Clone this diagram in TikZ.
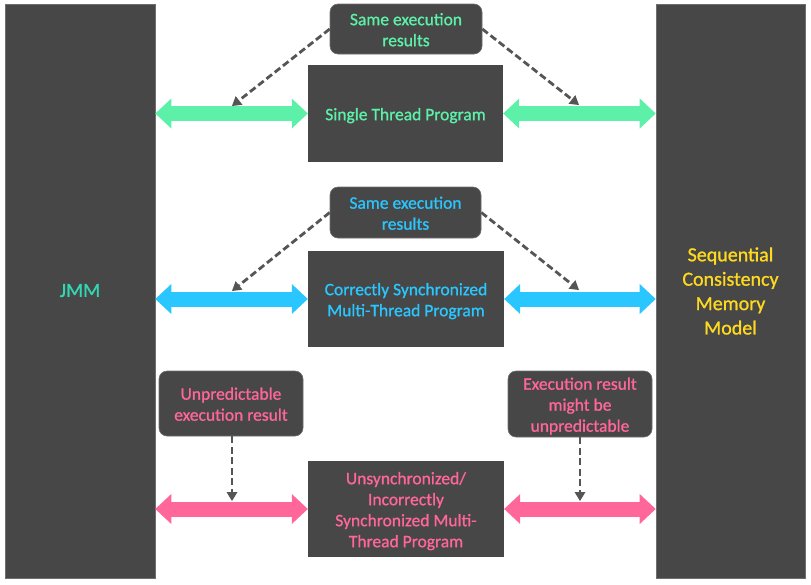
\documentclass[tikz,border=0pt]{standalone}
\usepackage{fontspec}
\setmainfont{Carlito}[FakeBold=1.0]
\usetikzlibrary{arrows.meta}
\definecolor{boxgray}{HTML}{474747}
\definecolor{edgegray}{HTML}{6E6E6E}
\definecolor{dashgray}{HTML}{555555}
\definecolor{mgreen}{HTML}{5CF0A9}
\definecolor{mblue}{HTML}{29C6FF}
\definecolor{mpink}{HTML}{FF6699}
\definecolor{myellow}{HTML}{FFD91F}
\definecolor{mteal}{HTML}{33D6B3}
\newcommand{\dntext}[2][2.5pt]{\raisebox{-#1}[\height][\depth]{\begin{tabular}{@{}c@{}}#2\end{tabular}}}
\tikzset{
  bigbox/.style={fill=boxgray, draw=edgegray, line width=0.6pt, inner sep=0pt, align=center, font=\fontsize{20}{24.4}\selectfont},
  progbox/.style={fill=boxgray, inner sep=0pt, minimum width=196pt, minimum height=96pt, align=center, font=\fontsize{17.5}{21}\selectfont},
  notebox/.style={fill=boxgray, draw=edgegray, line width=0.6pt, rounded corners=8pt, inner sep=0pt, align=center, font=\fontsize{17.5}{21}\selectfont},
  bigarrow/.style={line width=15pt, {Triangle[length=16pt,width=30pt,line width=0pt]}-{Triangle[length=16pt,width=30pt,line width=0pt]}},
  dasharrow/.style={draw=dashgray, line width=2.8pt, dash pattern=on 7pt off 3.5pt, -{Triangle[length=9pt,width=11pt,line width=0pt]}}
}
\begin{document}
\begin{tikzpicture}[x=1pt,y=-1pt]
\useasboundingbox (0,0) rectangle (811,584);
% side boxes
\node[bigbox, minimum width=150pt, minimum height=574pt, text=mteal] (jmm) at (80,291) {\dntext[1pt]{JMM}};
\node[bigbox, minimum width=149pt, minimum height=574pt, text=myellow] (scm) at (730.5,291) {\dntext[2pt]{Sequential\\Consistency\\Memory\\Model}};
% program boxes
\node[progbox, minimum width=195pt, minimum height=97pt, text=mgreen] (st) at (405.5,113.5) {\dntext{Single Thread Program}};
\node[progbox, text=mblue] (cs) at (406,299) {\dntext{Correctly Synchronized\\Multi-Thread Program}};
\node[progbox, text=mpink] (uns) at (406,509) {\dntext{Unsynchronized/\\Incorrectly\\Synchronized Multi-\\Thread Program}};
% note boxes
\node[notebox, minimum width=152pt, minimum height=50pt, text=mgreen] (same1) at (406,29) {\dntext{Same execution\\results}};
\node[notebox, minimum width=151pt, minimum height=51pt, text=mblue] (same2) at (405.5,212.5) {\dntext{Same execution\\results}};
\node[notebox, minimum width=144pt, minimum height=65pt, text=mpink] (unp) at (231,403.5) {\dntext{Unpredictable\\execution result}};
\node[notebox, minimum width=144pt, minimum height=66pt, text=mpink] (might) at (580,404) {\dntext{Execution result\\might be\\unpredictable}};
% big double arrows
\draw[bigarrow, mgreen] (jmm.east |- st.west) -- (st.west);
\draw[bigarrow, mgreen] (st.east) -- (scm.west |- st.east);
\draw[bigarrow, mblue] (jmm.east |- cs.west) -- (cs.west);
\draw[bigarrow, mblue] (cs.east) -- (scm.west |- cs.east);
\draw[bigarrow, mpink] (jmm.east |- uns.west) -- (uns.west);
\draw[bigarrow, mpink] (uns.east) -- (scm.west |- uns.east);
% dashed arrow targets
\coordinate (g1) at (232,106);
\coordinate (g2) at (579,105);
\coordinate (b1) at (232,291);
\coordinate (b2) at (579,290);
\coordinate (p1) at (232,501);
\coordinate (p2) at (580,501);
\draw[dasharrow] (same1.west) -- (g1);
\draw[dasharrow] (same1.east) -- (g2);
\draw[dasharrow] (same2.west) -- (b1);
\draw[dasharrow] (same2.east) -- (b2);
\draw[dasharrow] (unp.south -| p1) -- (p1);
\draw[dasharrow] (might.south) -- (p2);
\end{tikzpicture}
\end{document}
